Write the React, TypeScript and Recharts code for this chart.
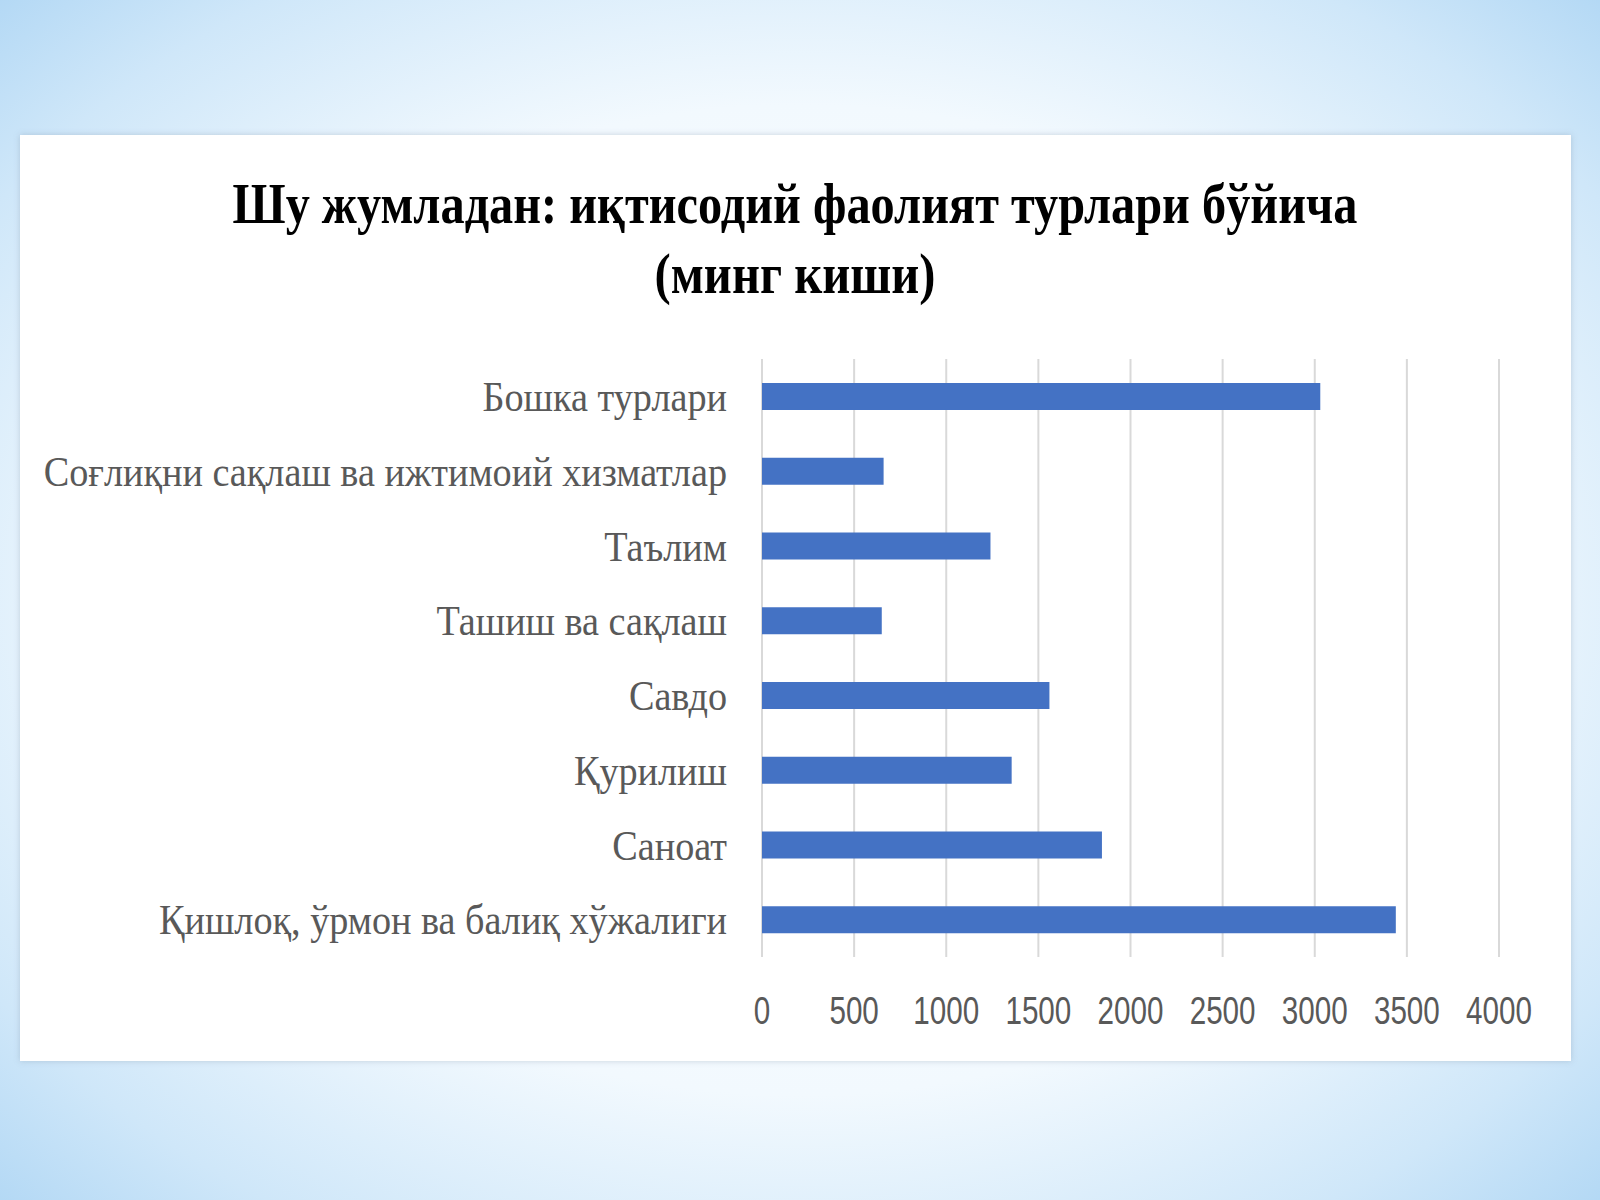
import React, { useLayoutEffect, useRef, useState } from "react";
import { BarChart, Bar, XAxis, YAxis, CartesianGrid } from "recharts";

const categories: string[] = [
  "Бошка турлари",
  "Соғлиқни сақлаш ва ижтимоий хизматлар",
  "Таълим",
  "Ташиш ва сақлаш",
  "Савдо",
  "Қурилиш",
  "Саноат",
  "Қишлоқ, ўрмон ва балиқ хўжалиги",
];
const values: number[] = [3030, 660, 1240, 650, 1560, 1355, 1845, 3440];
const xTicks: number[] = [0, 500, 1000, 1500, 2000, 2500, 3000, 3500, 4000];
const titleLine1 = "Шу жумладан: иқтисодий фаолият турлари бўйича";
const titleLine2 = "(минг киши)";

const data = categories.map((name, i) => ({ name, value: values[i] }));

const YTick = (props: any) => {
  const { x, y, payload } = props;
  return (
    <text
      transform={`translate(${x},${y}) scale(0.91,1)`}
      x={0}
      y={0}
      dy="0.35em"
      textAnchor="end"
      fill="#595959"
      fontFamily="'Liberation Serif', 'Times New Roman', serif"
      fontSize={42}
    >
      {payload.value}
    </text>
  );
};

const XTick = (props: any) => {
  const { x, y, payload } = props;
  return (
    <text
      transform={`translate(${x},${y}) scale(0.78,1)`}
      x={0}
      y={0}
      dy="0.35em"
      textAnchor="middle"
      fill="#595959"
      fontFamily="'Liberation Sans', Arial, sans-serif"
      fontSize={38}
    >
      {payload.value}
    </text>
  );
};

const TitleLine = ({ text, cx, y, target }: { text: string; cx: number; y: number; target: number }) => {
  const ref = useRef<SVGTextElement>(null);
  const [s, setS] = useState(0.8);
  useLayoutEffect(() => {
    if (ref.current) {
      const w = ref.current.getComputedTextLength();
      if (w > 0) setS(target / w);
    }
  }, [text, target]);
  return (
    <text
      ref={ref}
      transform={`translate(${cx},${y}) scale(${s},1)`}
      x={0}
      y={0}
      textAnchor="middle"
      fontFamily="'Liberation Serif', 'Times New Roman', serif"
      fontWeight="bold"
      fontSize={58}
      fill="#000000"
    >
      {text}
    </text>
  );
};

export default function App() {
  return (
    <div
      style={{
        position: "absolute",
        left: 0,
        top: 0,
        width: 1600,
        height: 1200,
        overflow: "hidden",
        background:
          "radial-gradient(ellipse 75% 75% at 50% 50%, #ffffff 0%, #f2f9fe 55%, #cfe7f9 80%, #a9d3f3 100%)",
      }}
    >
      <div
        style={{
          position: "absolute",
          left: 20,
          top: 135,
          width: 1551,
          height: 926,
          background: "#ffffff",
          boxShadow: "0 0 6px rgba(120,140,160,0.35)",
        }}
      >
        <div style={{ position: "absolute", left: 0, top: 0 }}>
          <BarChart
            width={1551}
            height={926}
            data={data}
            layout="vertical"
            margin={{ top: 224, right: 72, bottom: 44, left: 0 }}
            barSize={27}
          >
            <CartesianGrid
              horizontal={false}
              vertical={true}
              stroke="#d9d9d9"
              strokeWidth={2}
            />
            <XAxis
              type="number"
              domain={[0, 4000]}
              ticks={xTicks}
              interval={0}
              axisLine={false}
              tickLine={false}
              tickSize={0}
              tickMargin={54}
              height={60}
              tick={<XTick />}
            />
            <YAxis
              type="category"
              dataKey="name"
              width={742}
              axisLine={false}
              tickLine={false}
              tickSize={0}
              tickMargin={35}
              interval={0}
              tick={<YTick />}
            />
            <Bar dataKey="value" fill="#4472c4" isAnimationActive={false} />
          </BarChart>
        </div>
        <svg
          width={1551}
          height={210}
          style={{ position: "absolute", left: 0, top: 0, pointerEvents: "none" }}
        >
          <TitleLine text={titleLine1} cx={775} y={88} target={1125} />
          <TitleLine text={titleLine2} cx={775} y={158} target={281} />
        </svg>
      </div>
    </div>
  );
}
